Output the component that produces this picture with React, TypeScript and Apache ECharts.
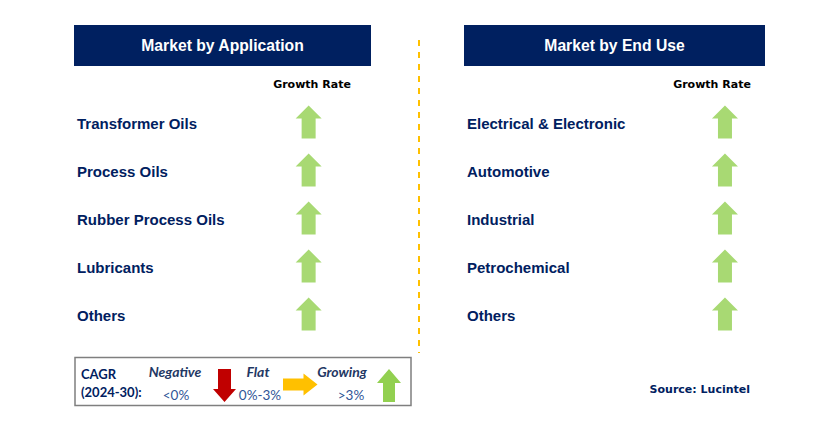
import React, { useEffect, useRef } from "react";
import * as echarts from "echarts";

const applicationSegments = ["Transformer Oils", "Process Oils", "Rubber Process Oils", "Lubricants", "Others"];
const applicationGrowth = ["growing", "growing", "growing", "growing", "growing"];
const endUseSegments = ["Electrical & Electronic", "Automotive", "Industrial", "Petrochemical", "Others"];
const endUseGrowth = ["growing", "growing", "growing", "growing", "growing"];
const panelTitles = ["Market by Application", "Market by End Use"];
const legendItems = [
  { name: "Negative", range: "<0%" },
  { name: "Flat", range: "0%-3%" },
  { name: "Growing", range: ">3%" },
];
const cagrLabel = ["CAGR", "(2024-30):"];
const sourceText = "Source: Lucintel";

const NAVY = "#002060";
const GREEN = "#92D050";
const RED = "#C00000";
const YELLOW = "#FFC000";

const UP_PATH = "path://M13,0 L26,13 L20,13 L20,33 L6,33 L6,13 L0,13 Z";
const DOWN_PATH = "path://M6,0 L20,0 L20,20 L26,20 L13,33 L0,20 L6,20 Z";
const RIGHT_PATH = "path://M0,6 L20,6 L20,0 L33,11 L20,22 L20,16 L0,16 Z";
const symbolFor = (g: string) => (g === "growing" ? UP_PATH : g === "negative" ? DOWN_PATH : RIGHT_PATH);
const colorFor = (g: string) => (g === "growing" ? GREEN : g === "negative" ? RED : YELLOW);

export default function App() {
  const ref = useRef<HTMLDivElement>(null);
  useEffect(() => {
    if (!ref.current) return;
    const chart = echarts.init(ref.current, null, { renderer: "svg" });
    const labelFont = { color: NAVY, fontWeight: "bold" as const, fontSize: 15, fontFamily: "Liberation Sans" };
    const panels = [
      { left: 74, width: 297, cats: applicationSegments, growth: applicationGrowth, col: 0.79 },
      { left: 464, width: 301, cats: endUseSegments, growth: endUseGrowth, col: 0.867 },
    ];
    const grid = panels.map((p) => ({ left: p.left, width: p.width, top: 99, height: 240 }));
    const xAxis = panels.map((_, i) => ({ type: "value", gridIndex: i, min: 0, max: 1, show: false }));
    const yAxis = panels.map((p, i) => ({
      type: "category",
      gridIndex: i,
      inverse: true,
      data: p.cats,
      axisLine: { show: false },
      axisTick: { show: false },
      splitLine: { show: false },
      axisLabel: { inside: true, margin: 3, align: "left", ...labelFont },
    }));
    const series = panels.map((p, i) => ({
      type: "scatter",
      xAxisIndex: i,
      yAxisIndex: i,
      symbolSize: [26, 33],
      symbolOffset: [0, -1],
      silent: true,
      data: p.cats.map((c, j) => ({
        value: [p.col, c],
        symbol: symbolFor(p.growth[j]),
        itemStyle: { color: colorFor(p.growth[j]) },
      })),
    }));

    const headerRects = panels.map((p, i) => ({
      type: "rect",
      shape: { x: p.left, y: 25, width: p.width, height: 41 },
      style: { fill: NAVY },
      textContent: {
        style: { text: panelTitles[i], fill: "#fff", fontSize: 15.7, fontWeight: "bold", fontFamily: "Liberation Sans" },
      },
      textConfig: { position: "inside" },
    }));
    const growthHeaders = [312, 712].map((x) => ({
      type: "text",
      x,
      y: 84,
      style: {
        text: "Growth Rate",
        fill: "#000",
        fontSize: 11,
        fontWeight: "bold",
        fontFamily: "DejaVu Sans",
        align: "center",
        verticalAlign: "middle",
      },
    }));
    const legendFont = { fontFamily: "Lato", fontSize: 13 };
    const legendCenters = [175, 258, 342];
    const legendRangeCenters = [176, 260, 351];
    const legendGraphics: any[] = [
      {
        type: "rect",
        shape: { x: 75, y: 357.5, width: 336, height: 48 },
        style: { fill: "#fff", stroke: "#7F7F7F", lineWidth: 1.5 },
      },
      ...cagrLabel.map((t, i) => ({
        type: "text",
        x: 81,
        y: i === 0 ? 374 : 392,
        style: { text: t, fill: NAVY, fontWeight: "bold", ...legendFont, verticalAlign: "middle" },
      })),
      ...legendItems.map((it, i) => ({
        type: "text",
        x: legendCenters[i],
        y: 371,
        style: {
          text: it.name,
          fill: "#1F3864",
          fontWeight: "bold",
          fontStyle: "italic",
          ...legendFont,
          fontSize: 14,
          align: "center",
          verticalAlign: "middle",
        },
      })),
      ...legendItems.map((it, i) => ({
        type: "text",
        x: legendRangeCenters[i],
        y: 395,
        style: { text: it.range, fill: "#2F5597", ...legendFont, fontSize: 13.5, align: "center", verticalAlign: "middle" },
      })),
      {
        type: "polygon",
        shape: { points: [[218, 369], [231, 369], [231, 389], [236, 389], [224.5, 402], [213, 389], [218, 389]] },
        style: { fill: RED },
      },
      {
        type: "polygon",
        shape: { points: [[283, 378.5], [303.5, 378.5], [303.5, 373.5], [317.5, 384.5], [303.5, 395.5], [303.5, 390.5], [283, 390.5]] },
        style: { fill: YELLOW },
      },
      {
        type: "polygon",
        shape: { points: [[389, 369], [401, 383], [395, 383], [395, 402], [383, 402], [383, 383], [377, 383]] },
        style: { fill: GREEN },
      },
    ];

    chart.setOption({
      animation: false,
      backgroundColor: "#fff",
      grid,
      xAxis,
      yAxis,
      series,
      graphic: [
        ...headerRects,
        ...growthHeaders,
        {
          type: "line",
          shape: { x1: 419, y1: 40, x2: 419, y2: 353 },
          style: { stroke: YELLOW, lineWidth: 2, lineDash: [6, 6] },
        },
        ...legendGraphics,
        {
          type: "text",
          x: 750,
          y: 389,
          style: {
            text: sourceText,
            fill: NAVY,
            fontSize: 11,
            fontWeight: "bold",
            fontFamily: "DejaVu Sans",
            align: "right",
            verticalAlign: "middle",
          },
        },
      ],
    });
    return () => chart.dispose();
  }, []);
  return <div ref={ref} style={{ position: "fixed", left: 0, top: 0, width: 829, height: 442 }} />;
}
